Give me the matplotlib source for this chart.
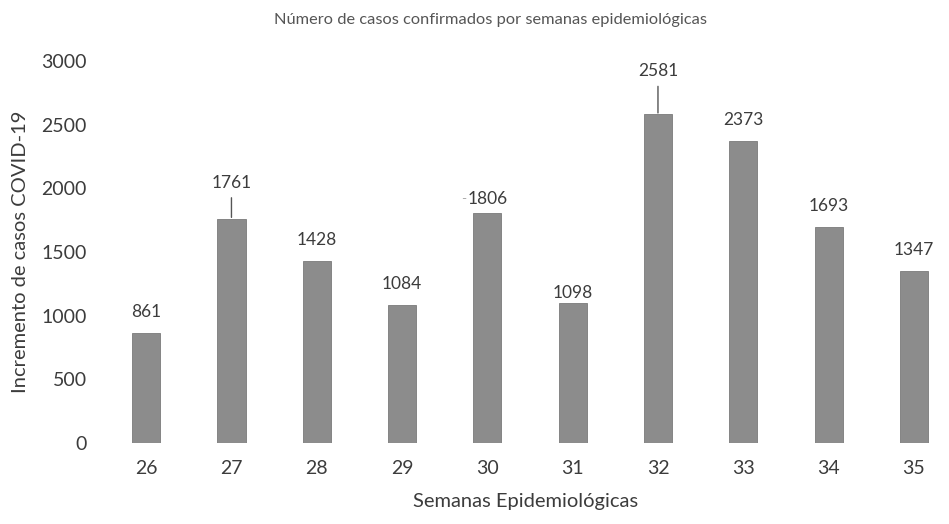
import numpy as np
import matplotlib
matplotlib.use("Agg")
import matplotlib.pyplot as plt

plt.rcParams['font.family'] = ['Lato', 'DejaVu Sans']

# data
semanas = ['26', '27', '28', '29', '30', '31', '32', '33', '34', '35']
casos = [861, 1761, 1428, 1084, 1806, 1098, 2581, 2373, 1693, 1347]
yticks = [0, 500, 1000, 1500, 2000, 2500, 3000]

# label offsets in pixels above bar top (default 21), leader line for some
lbl_off = {'27': 36, '30': 14, '31': 10, '32': 43}
leader = {'27', '32'}

txt = '#3c3c3c'
fig = plt.figure(figsize=(9.49, 5.24), dpi=100)
ax = fig.add_axes([103.5/949, 81/524, 844.5/949, 382/524])

x = np.arange(len(semanas))
ax.bar(x, casos, width=0.33, color='#8c8c8c', edgecolor='#7a7a7a', lw=0.6)

px = 0.72  # points per pixel
for i, (s, v) in enumerate(zip(semanas, casos)):
    off = lbl_off.get(s, 21)
    ax.annotate(str(v), (i, v), xytext=(0, off*px), textcoords='offset points',
                ha='center', va='center', fontsize=12.5, color=txt,
                annotation_clip=False)
    if s in leader:
        ax.annotate('', (i, v), xytext=(0, (off - 15)*px), textcoords='offset points',
                    arrowprops=dict(arrowstyle='-', color='#555555', lw=1,
                                    shrinkA=0, shrinkB=1),
                    annotation_clip=False)
    if s == '30':
        ax.annotate('-', (i, v), xytext=(-24*px, off*px), textcoords='offset points',
                    ha='center', va='center', fontsize=10, color='#aaaaaa',
                    annotation_clip=False)

ax.set_xlim(-0.5, 9.4)
ax.set_ylim(0, 3000)
ax.set_xticks(x)
ax.set_xticklabels(semanas)
ax.set_yticks(yticks)
ax.tick_params(axis='both', length=0, labelsize=14, colors=txt)
ax.tick_params(axis='y', pad=12)
ax.tick_params(axis='x', pad=12)
for sp in ax.spines.values():
    sp.set_visible(False)

ax.set_ylabel('Incremento de casos COVID-19', fontsize=14.5, color=txt, labelpad=9)
ax.set_xlabel('Semanas Epidemiológicas', fontsize=14.5, color=txt, labelpad=12)
fig.text(490/949, 1 - 20/524, 'Número de casos confirmados por semanas epidemiológicas',
         ha='center', va='center', fontsize=11.8, color='#555555')

fig.savefig('out.png', dpi=100)
